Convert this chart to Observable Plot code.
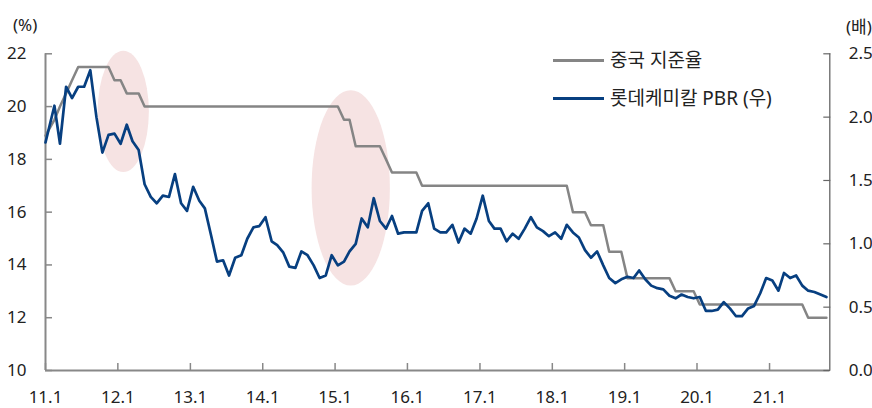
<!DOCTYPE html>
<html>
<head>
<meta charset="utf-8">
<script src="https://cdn.jsdelivr.net/npm/d3@7"></script>
<script src="https://cdn.jsdelivr.net/npm/@observablehq/plot@0.6"></script>
<style>
  html, body { margin: 0; padding: 0; background: #fff; }
  #wrap { position: relative; width: 872px; height: 408px; overflow: hidden;
          font-family: "Noto Sans", "Noto Sans CJK KR", sans-serif; color: #222; }
  #wrap svg { position: absolute; left: 0; top: 0; }
  .unit { position: absolute; font-size: 17px; line-height: 1; }
  .leg { position: absolute; display: flex; align-items: center; font-size: 19px; line-height: 1; }
  .leg .sw { width: 51px; height: 2.6px; margin-right: 6px; }
</style>
</head>
<body>
<div id="wrap">
  <div class="unit" style="left:13px; top:16px;">(%)</div>
  <div class="unit" style="left:846px; top:18px;">(배)</div>
  <div class="leg" style="left:553px; top:51px;"><div class="sw" style="background:#858585"></div><span>중국 지준율</span></div>
  <div class="leg" style="left:553px; top:89px;"><div class="sw" style="background:#073f80"></div><span>롯데케미칼 PBR (우)</span></div>
</div>
<script>
// Monthly series, Jan 2011 – Oct 2021
// China reserve requirement ratio (%, left axis)
const rrr = [
  18.9, 19.5, 20.0, 20.5, 21.0, 21.5, 21.5, 21.5, 21.5, 21.5, 21.5, 21.0,
  21.0, 20.5, 20.5, 20.5, 20.0, 20.0, 20.0, 20.0, 20.0, 20.0, 20.0, 20.0,
  20.0, 20.0, 20.0, 20.0, 20.0, 20.0, 20.0, 20.0, 20.0, 20.0, 20.0, 20.0,
  20.0, 20.0, 20.0, 20.0, 20.0, 20.0, 20.0, 20.0, 20.0, 20.0, 20.0, 20.0,
  20.0, 19.5, 19.5, 18.5, 18.5, 18.5, 18.5, 18.5, 18.0, 17.5, 17.5, 17.5,
  17.5, 17.5, 17.0, 17.0, 17.0, 17.0, 17.0, 17.0, 17.0, 17.0, 17.0, 17.0,
  17.0, 17.0, 17.0, 17.0, 17.0, 17.0, 17.0, 17.0, 17.0, 17.0, 17.0, 17.0,
  17.0, 17.0, 17.0, 16.0, 16.0, 16.0, 15.5, 15.5, 15.5, 14.5, 14.5, 14.5,
  13.5, 13.5, 13.5, 13.5, 13.5, 13.5, 13.5, 13.5, 13.0, 13.0, 13.0, 13.0,
  12.5, 12.5, 12.5, 12.5, 12.5, 12.5, 12.5, 12.5, 12.5, 12.5, 12.5, 12.5,
  12.5, 12.5, 12.5, 12.5, 12.5, 12.5, 12.0, 12.0, 12.0, 12.0
];
// Lotte Chemical PBR (x, right axis)
const pbr = [
  1.80, 2.09, 1.79, 2.24, 2.15, 2.24, 2.24, 2.37, 2.00, 1.72, 1.86, 1.87,
  1.79, 1.94, 1.81, 1.74, 1.47, 1.37, 1.32, 1.38, 1.37, 1.55, 1.32, 1.26,
  1.45, 1.34, 1.28, 1.07, 0.86, 0.87, 0.75, 0.89, 0.91, 1.04, 1.13, 1.14,
  1.21, 1.02, 0.99, 0.93, 0.82, 0.81, 0.94, 0.91, 0.83, 0.73, 0.75, 0.91,
  0.83, 0.86, 0.94, 1.00, 1.20, 1.13, 1.36, 1.18, 1.12, 1.22, 1.08, 1.09,
  1.09, 1.09, 1.26, 1.32, 1.12, 1.09, 1.09, 1.15, 1.01, 1.12, 1.08, 1.20,
  1.38, 1.18, 1.12, 1.12, 1.02, 1.08, 1.04, 1.12, 1.21, 1.13, 1.10, 1.06,
  1.09, 1.04, 1.15, 1.09, 1.05, 0.95, 0.89, 0.94, 0.83, 0.73, 0.69, 0.72,
  0.74, 0.73, 0.79, 0.72, 0.67, 0.65, 0.64, 0.59, 0.57, 0.60, 0.58, 0.57,
  0.58, 0.47, 0.47, 0.48, 0.54, 0.49, 0.43, 0.43, 0.49, 0.51, 0.61, 0.73,
  0.71, 0.63, 0.77, 0.73, 0.75, 0.67, 0.63, 0.62, 0.60, 0.58
];
const leftTicks = [10, 12, 14, 16, 18, 20, 22];
const rightTicks = [0.0, 0.5, 1.0, 1.5, 2.0, 2.5];
const xTickYears = [2011, 2012, 2013, 2014, 2015, 2016, 2017, 2018, 2019, 2020, 2021];
// highlighted periods (annotation ellipses)
const hlStart = ["2011-09-24", "2014-09-07"];
const hlEnd = ["2012-06-08", "2015-10-07"];
const hlTop = [22.1, 20.6];
const hlBottom = [17.5, 13.2];

const xStart = new Date(Date.UTC(2011, 0, 1));
const xEnd = new Date(Date.UTC(2021, 10, 1));
const months = d3.utcMonth.range(xStart, xEnd);
const dates = months.map((d, i) => i === 0 ? d : d3.utcDay.offset(d, 14));
const rows = dates.map((date, i) => ({date, rrr: rrr[i], pbr: pbr[i]}));
const toLeft = v => 10 + v * 12 / 2.5;
const xTicks = xTickYears.map(y => new Date(Date.UTC(y, 0, 1)));

function highlights(index, scales) {
  const g = d3.create("svg:g");
  if (!scales || !scales.x || !scales.y) return g.node();
  for (let i = 0; i < hlStart.length; i++) {
    const x1 = scales.x(new Date(hlStart[i])), x2 = scales.x(new Date(hlEnd[i]));
    const y1 = scales.y(hlTop[i]), y2 = scales.y(hlBottom[i]);
    g.append("ellipse")
      .attr("cx", (x1 + x2) / 2).attr("cy", (y1 + y2) / 2)
      .attr("rx", Math.abs(x2 - x1) / 2).attr("ry", Math.abs(y2 - y1) / 2)
      .attr("fill", "#f6e3e3");
  }
  return g.node();
}

const chart = Plot.plot({
  width: 872, height: 408,
  marginLeft: 45, marginRight: 42.7, marginTop: 53.3, marginBottom: 38,
  x: {type: "utc", domain: [xStart, xEnd]},
  y: {domain: [10, 22]},
  style: {fontFamily: '"Noto Sans", "Noto Sans CJK KR", sans-serif', fontSize: "17px", color: "#222", background: "transparent", overflow: "visible"},
  marks: [
    highlights,
    Plot.ruleX([xStart], {stroke: "#888", strokeWidth: 2}),
    Plot.ruleX([xEnd], {stroke: "#666", strokeWidth: 1.3}),
    Plot.ruleY([10], {stroke: "#888", strokeWidth: 2}),
    Plot.axisY({ticks: leftTicks, anchor: "left", tickSize: -7, tickPadding: 26, stroke: "#888", strokeWidth: 1.5, label: null, tickFormat: d => String(d)}),
    Plot.axisY({ticks: rightTicks.map(toLeft), anchor: "right", tickSize: -7, tickPadding: 26, stroke: "#666", strokeWidth: 1.2, label: null,
                tickFormat: d => ((d - 10) * 2.5 / 12).toFixed(1)}),
    Plot.axisX({ticks: xTicks, anchor: "bottom", tickSize: -7, tickPadding: 27, stroke: "#888", strokeWidth: 1.5, label: null,
                tickFormat: d => `${String(d.getUTCFullYear()).slice(2)}.1`}),
    Plot.line(rows, {x: "date", y: "rrr", stroke: "#858585", strokeWidth: 2.5}),
    Plot.line(rows, {x: "date", y: d => toLeft(d.pbr), stroke: "#073f80", strokeWidth: 2.7})
  ]
});
document.getElementById("wrap").prepend(chart);
</script>
</body>
</html>
